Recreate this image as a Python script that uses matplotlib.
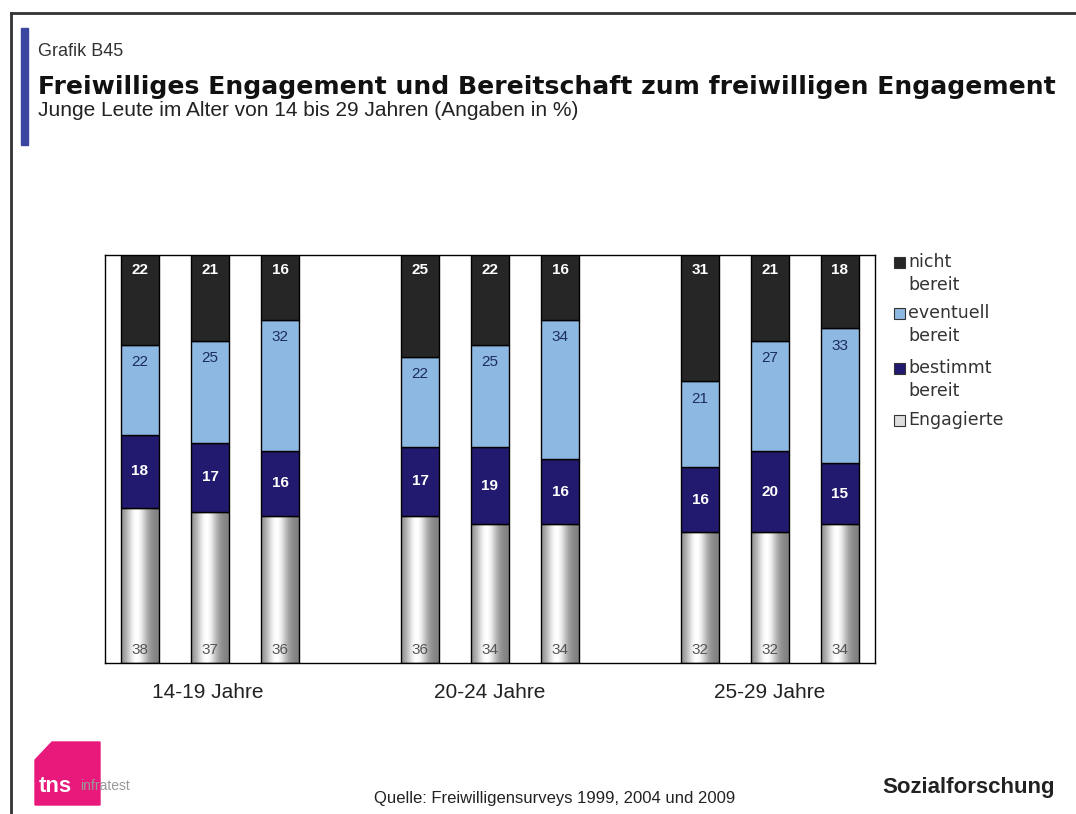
import numpy as np
import matplotlib.pyplot as plt
from matplotlib.patches import Rectangle, Polygon

# Daten (Angaben in %), je Altersgruppe drei Surveys: 1999, 2004, 2009
groups = ['14-19 Jahre', '20-24 Jahre', '25-29 Jahre']
engagierte = [38, 37, 36, 36, 34, 34, 32, 32, 34]
bestimmt = [18, 17, 16, 17, 19, 16, 16, 20, 15]
eventuell = [22, 25, 32, 22, 25, 34, 21, 27, 33]
nicht = [22, 21, 16, 25, 22, 16, 31, 21, 18]
legend_labels = [('nicht', 'bereit'), ('eventuell', 'bereit'), ('bestimmt', 'bereit'), ('Engagierte', '')]

c_nicht = '#262626'
c_event = '#8cb8e2'
c_best = '#221a6e'

plt.rcParams['font.family'] = ['Liberation Sans', 'DejaVu Sans']

fig = plt.figure(figsize=(10.76, 8.14), dpi=100)
W, H = 1076, 814

def fx(px):
    return px / W

def fy(py):
    return 1 - py / H

# Rahmen oben und links
fig.add_artist(plt.Line2D([fx(11), 1], [fy(13), fy(13)], color='#333333', lw=2))
fig.add_artist(plt.Line2D([fx(11), fx(11)], [fy(13), 0], color='#333333', lw=2))
# blauer Balken
fig.add_artist(Rectangle((fx(21), fy(145)), fx(7), 117 / H, color='#3a46a0'))

fig.text(fx(38), fy(52), 'Grafik B45', fontsize=13, color='#333333', va='center')
fig.text(fx(38), fy(87), 'Freiwilliges Engagement und Bereitschaft zum freiwilligen Engagement',
         fontsize=18.1, fontweight='bold', family='DejaVu Sans', color='#111111', va='center')
fig.text(fx(38), fy(110), 'Junge Leute im Alter von 14 bis 29 Jahren (Angaben in %)',
         fontsize=15, color='#222222', va='center')

ax = fig.add_axes([fx(105), fy(663), (875 - 105) / W, (663 - 255) / H])
x = np.array([0, 1, 2, 4, 5, 6, 8, 9, 10], dtype=float)
bw = 0.55

nicht_bottom = np.array(engagierte) + np.array(bestimmt) + np.array(eventuell)
event_bottom = np.array(engagierte) + np.array(bestimmt)

# Engagierte mit Zylinder-Verlauf
grad = np.linspace(0, 1, 100)
shade = 0.5 + 0.5 * np.exp(-((grad - 0.4) / 0.28) ** 2)
img = np.tile(shade, (2, 1))
for xi, h in zip(x, engagierte):
    ax.imshow(img, cmap='gray', vmin=0, vmax=1, aspect='auto',
              extent=(xi - bw / 2, xi + bw / 2, 0, h), zorder=2)
ax.bar(x, engagierte, bw, facecolor='none', edgecolor='black', lw=1, zorder=3)
ax.bar(x, bestimmt, bw, bottom=engagierte, color=c_best, edgecolor='black', lw=1, zorder=3)
ax.bar(x, eventuell, bw, bottom=event_bottom, color=c_event, edgecolor='black', lw=1, zorder=3)
ax.bar(x, nicht, bw, bottom=nicht_bottom, color=c_nicht, edgecolor='black', lw=1, zorder=3)

for i, xi in enumerate(x):
    ax.text(xi, 100 - 3.7, str(nicht[i]), ha='center', va='center', color='white',
            fontsize=11, fontweight='bold', zorder=4)
    ax.text(xi, nicht_bottom[i] - 4.2, str(eventuell[i]), ha='center', va='center',
            color='#1c2d5e', fontsize=11, zorder=4)
    ax.text(xi, engagierte[i] + bestimmt[i] / 2, str(bestimmt[i]), ha='center', va='center',
            color='white', fontsize=11, fontweight='bold', zorder=4)
    ax.text(xi, 3.2, str(engagierte[i]), ha='center', va='center', color='#555555',
            fontsize=11, zorder=4)

ax.set_xlim(-0.5, 10.5)
ax.set_ylim(0, 100)
ax.set_xticks([])
ax.set_yticks([])
for s in ax.spines.values():
    s.set_color('black')
    s.set_linewidth(1)

for g, cx in zip(groups, [208, 490, 770]):
    fig.text(fx(cx), fy(692), g, fontsize=15, ha='center', va='center', color='#222222')

# Legende
leg_items = [(c_nicht, 262), (c_event, 313), (c_best, 368), ('#dddddd', 420)]
for (col, py), (l1, l2) in zip(leg_items, legend_labels):
    fig.add_artist(Rectangle((fx(894), fy(py + 6)), fx(11), 11 / H, facecolor=col,
                             edgecolor='#333333', lw=0.8))
    fig.text(fx(908), fy(py), l1, fontsize=12.5, family='DejaVu Sans', color='#333333',
             va='center')
    if l2:
        fig.text(fx(908), fy(py + 23), l2, fontsize=12.5, family='DejaVu Sans',
                 color='#333333', va='center')

# Fusszeile
logo = [(fx(35), fy(805)), (fx(35), fy(760)), (fx(52), fy(742)), (fx(100), fy(742)),
        (fx(100), fy(805))]
fig.add_artist(Polygon(logo, closed=True, color='#e8197a'))
fig.text(fx(39), fy(786), 'tns', fontsize=16, fontweight='bold', color='white', va='center')
fig.text(fx(80), fy(786), 'infratest', fontsize=10, color='#999999', va='center')
fig.text(fx(555), fy(798), 'Quelle: Freiwilligensurveys 1999, 2004 und 2009', fontsize=12,
         ha='center', va='center', color='#222222')
fig.text(fx(1055), fy(787), 'Sozialforschung', fontsize=16, fontweight='bold',
         ha='right', va='center', color='#222222')

fig.savefig('out.png', dpi=100)
